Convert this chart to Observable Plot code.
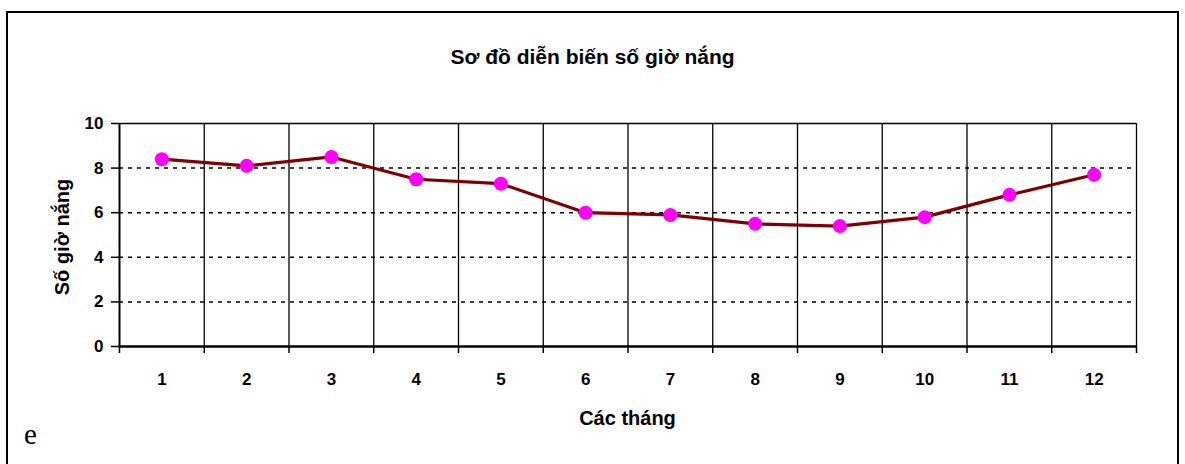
<!DOCTYPE html>
<html>
<head>
<meta charset="utf-8">
<script src="https://cdn.jsdelivr.net/npm/d3@7"></script>
<script src="https://cdn.jsdelivr.net/npm/@observablehq/plot@0.6"></script>
<style>
  html, body { margin: 0; padding: 0; background: #fff; overflow: hidden; }
  #wrap { position: relative; width: 1185px; height: 464px; overflow: hidden; font-family: "Liberation Sans", Arial, sans-serif; }
  #border { position: absolute; left: 6px; top: 11px; width: 1173px; height: 480px; border: 2px solid #000; box-sizing: border-box; }
  #chart { position: absolute; left: 0; top: 0; }
  .t { position: absolute; font-weight: bold; color: #000; white-space: nowrap; line-height: 1; }
  #title { left: 0; width: 1185px; text-align: center; top: 46px; font-size: 21px; }
  #xlabel { left: 0; width: 1255px; text-align: center; top: 408px; font-size: 20px; }
  #ylabel { left: 62px; top: 237px; font-size: 20px; transform: translate(-50%, -50%) rotate(-90deg); }
  #e { position: absolute; left: 24px; top: 418px; font-family: "Liberation Serif", "Times New Roman", serif; font-size: 29px; }
</style>
</head>
<body>
<div id="wrap">
  <div id="border"></div>
  <div id="chart"></div>
  <div class="t" id="title">Sơ đồ diễn biến số giờ nắng</div>
  <div class="t" id="ylabel">Số giờ nắng</div>
  <div class="t" id="xlabel">Các tháng</div>
  <div id="e">e</div>
</div>
<script>
const months = [1, 2, 3, 4, 5, 6, 7, 8, 9, 10, 11, 12];
const sunHours = [8.4, 8.1, 8.5, 7.5, 7.3, 6.0, 5.9, 5.5, 5.4, 5.8, 6.8, 7.7];
const yTicks = [0, 2, 4, 6, 8, 10];
const dottedGrid = [2, 4, 6, 8];
const boundaries = [0.5, 1.5, 2.5, 3.5, 4.5, 5.5, 6.5, 7.5, 8.5, 9.5, 10.5, 11.5, 12.5];
const innerBoundaries = boundaries.slice(1, -1);

const data = months.map((m, i) => ({month: m, value: sunHours[i]}));

const chart = Plot.plot({
  width: 1185,
  height: 464,
  marginLeft: 119,
  marginRight: 49,
  marginTop: 123,
  marginBottom: 118,
  style: {fontFamily: "'Liberation Sans', Arial, sans-serif", fontSize: "17px", fontWeight: "bold", color: "#000", background: "transparent"},
  x: {type: "linear", domain: [0.5, 12.5]},
  y: {domain: [0, 10]},
  marks: [
    Plot.ruleY(dottedGrid, {stroke: "#000", strokeWidth: 1.5, strokeDasharray: "4,5"}),
    Plot.ruleX(innerBoundaries, {stroke: "#000", strokeWidth: 1.3}),
    Plot.ruleY([10], {stroke: "#000", strokeWidth: 1.3}),
    Plot.ruleX([12.5], {stroke: "#000", strokeWidth: 1.3}),
    Plot.axisY({ticks: yTicks, tickSize: 8, tickPadding: 8, tickFormat: d => d, label: null, strokeWidth: 1.5}),
    Plot.axisX({ticks: boundaries, tickSize: 7, tickFormat: () => "", label: null, strokeWidth: 1.5}),
    Plot.axisX({ticks: months, tickSize: 0, tickPadding: 26, tickFormat: d => d, label: null}),
    Plot.ruleX([0.5], {stroke: "#000", strokeWidth: 2}),
    Plot.ruleY([0], {stroke: "#000", strokeWidth: 2.5}),
    Plot.line(data, {x: "month", y: "value", stroke: "#800000", strokeWidth: 3.2}),
    Plot.dot(data, {x: "month", y: "value", r: 7, fill: "#FF00FF", stroke: "none"})
  ]
});
document.getElementById("chart").appendChild(chart);
</script>
</body>
</html>
